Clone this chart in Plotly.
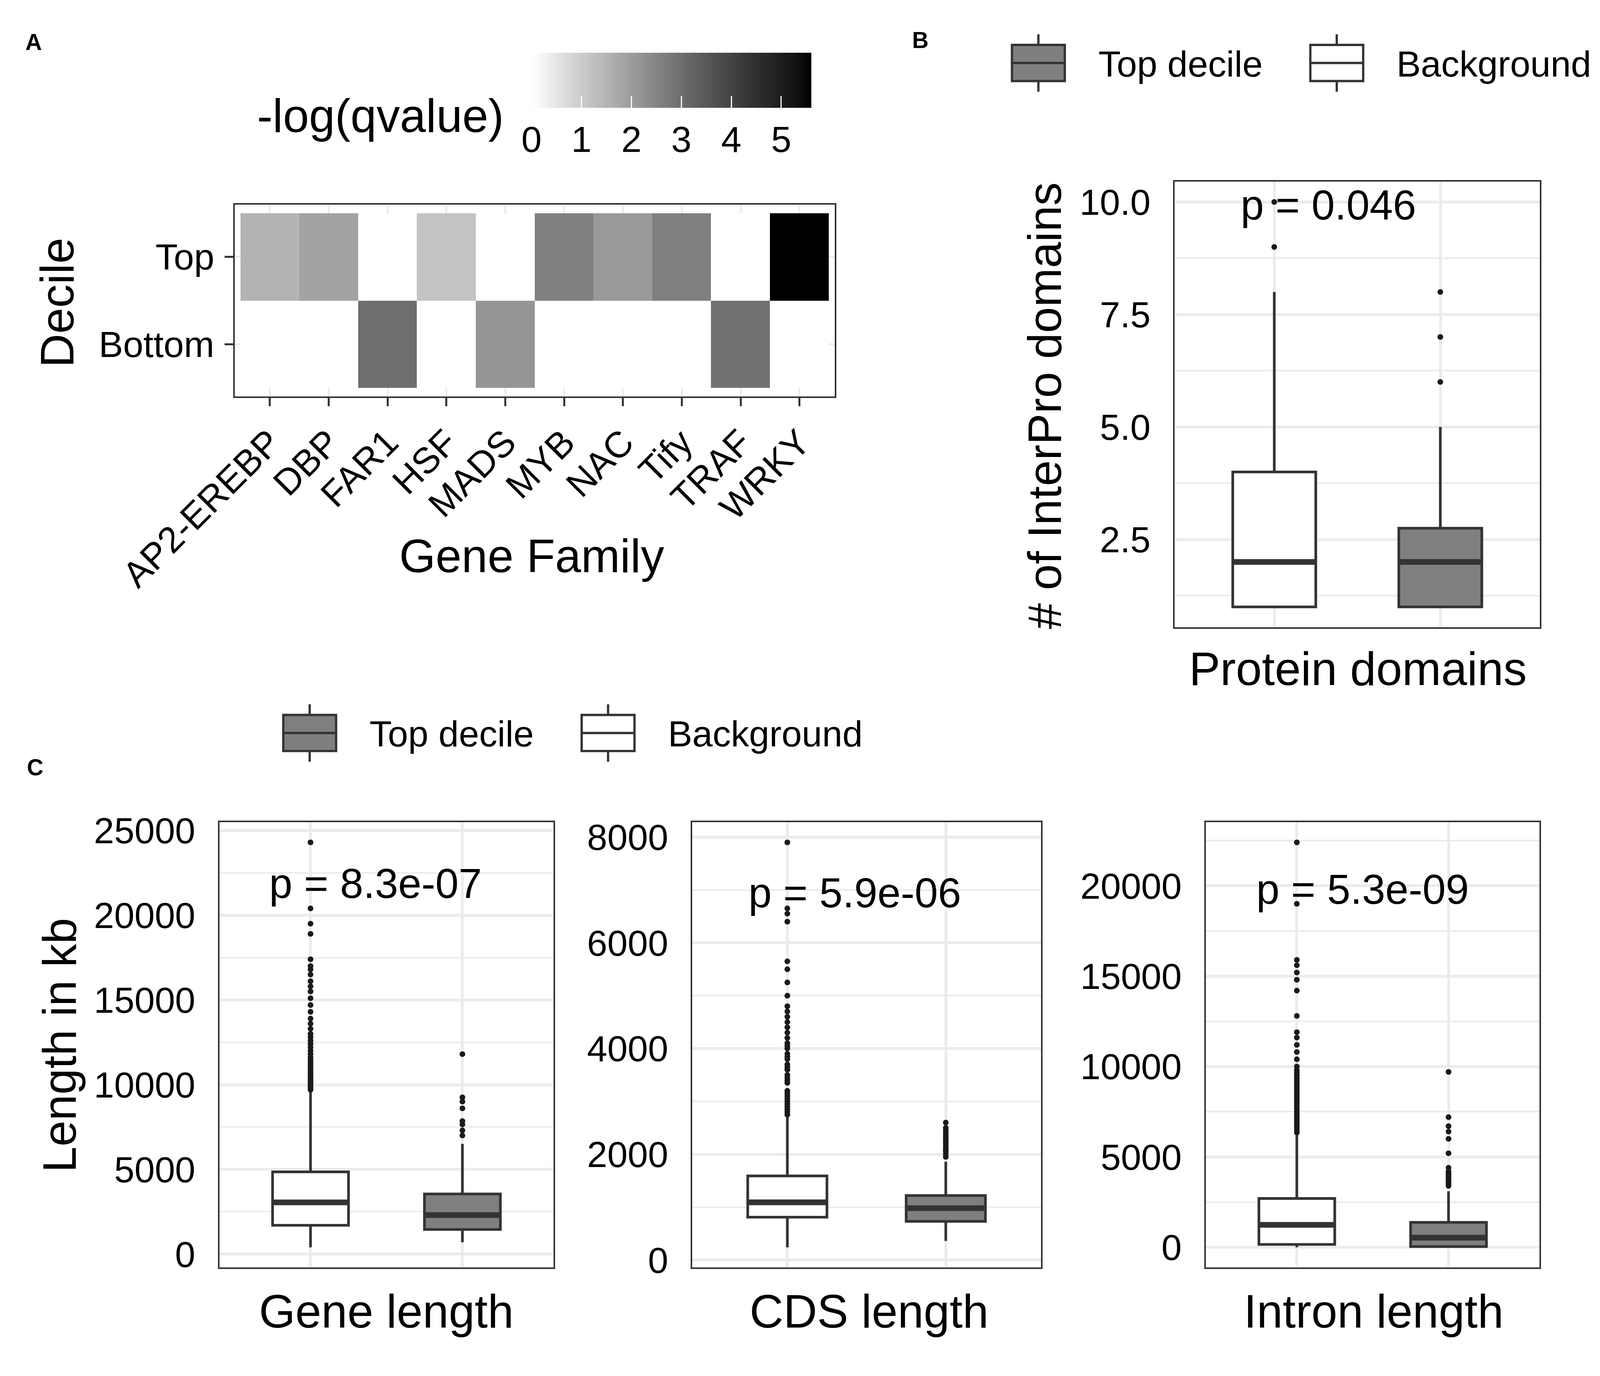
"""Gene family enrichment heatmap plus length / domain boxplots."""

import plotly.graph_objects as go

# layout is worked out in the reference's 4200x3523 pixel frame
REF_W, REF_H = 4200, 3523
# the photographed page comes out ~2.7% enlarged, so draw slightly smaller
S = 0.973
W, H = round(REF_W * S), round(REF_H * S)

# ---- panel A: -log(qvalue) per gene family and decile
families = ["AP2-EREBP", "DBP", "FAR1", "HSF", "MADS", "MYB", "NAC", "Tify", "TRAF", "WRKY"]
decile_rows = ["Bottom", "Top"]
qval_bottom = [0, 0, 3.0, 0, 2.16, 0, 0, 0, 2.9, 0]
qval_top = [1.52, 1.86, 0, 1.19, 0, 2.61, 2.07, 2.63, 0, 5.6]
qval_ticks = [0, 1, 2, 3, 4, 5]

# ---- panels B/C: lower whisker, q1, median, q3, upper whisker
groups = ["Background", "Top decile"]

domains_bg = [1, 1, 2, 4, 8]
domains_top = [1, 1, 2, 2.75, 5]
domains_bg_out = [9, 10]
domains_top_out = [6, 7, 8]

gene_bg = [400, 1700, 3050, 4850, 9600]
gene_top = [700, 1450, 2300, 3550, 6500]
gene_bg_out = [9700, 9800, 9900, 10000, 10100, 10200, 10300, 10450, 10600, 10700,
               10850, 11000, 11150, 11300, 11450, 11600, 11800, 12000, 12200, 12400,
               12600, 12800, 13000, 13300, 13600, 13900, 14300, 14700, 15100, 15500,
               15800, 16100, 16500, 16800, 17000, 17400, 18900, 19500, 20400, 24300]
gene_top_out = [7000, 7300, 7650, 7850, 8600, 9000, 9250, 11800]

cds_bg = [240, 810, 1090, 1590, 2700]
cds_top = [360, 730, 980, 1220, 1860]
cds_bg_out = [2750, 2800, 2850, 2900, 2950, 3000, 3050, 3100, 3150, 3200, 3350, 3400,
              3450, 3500, 3600, 3650, 3700, 3800, 3850, 3900, 4000, 4050, 4100, 4200,
              4300, 4400, 4500, 4600, 4700, 4800, 5000, 5250, 5500, 5650, 6400, 6550,
              6650, 7900]
cds_top_out = [1950, 2000, 2050, 2100, 2150, 2200, 2250, 2300, 2350, 2400, 2450, 2500, 2600]

intron_bg = [0, 160, 1240, 2700, 6300]
intron_top = [0, 40, 530, 1380, 3100]
intron_bg_out = [6350, 6500, 6650, 6800, 6950, 7100, 7250, 7400, 7550, 7700, 7850,
                 8000, 8150, 8300, 8450, 8600, 8750, 8900, 9050, 9200, 9350, 9500,
                 9650, 9800, 10000, 10400, 10800, 11200, 11600, 11900, 12800, 14200,
                 14800, 15200, 15600, 15900, 19000, 22400]
intron_top_out = [3400, 3500, 3600, 3700, 3800, 3900, 4000, 4100, 4200, 4400, 5200,
                  6000, 6400, 6700, 7200, 9700]

p_labels = ["p = 0.046", "p = 8.3e-07", "p = 5.9e-06", "p = 5.3e-09"]

FONT = "Liberation Sans, Arial, Helvetica, sans-serif"
GRID = "#ebebeb"
DARK = "#333333"
FILLS = {"Background": "white", "Top decile": "#7f7f7f"}
BOX_W = 0.5


def fx(px):
    return px / REF_W


def fy(px):
    return 1 - px / REF_H


def sz(v):
    return v * S


def lab_grey(t):
    # ggplot ramps white->black through CIELAB, so grey is linear in L*
    L = 100 * (1 - t)
    f = (L + 16) / 116
    Y = f ** 3 if f ** 3 > 0.008856 else L / 903.3
    c = 12.92 * Y if Y <= 0.0031308 else 1.055 * Y ** (1 / 2.4) - 0.055
    g = round(255 * min(max(c, 0), 1))
    return f"rgb({g},{g},{g})"


fig = go.Figure()

fig.add_trace(go.Heatmap(
    x=families, y=decile_rows, z=[qval_bottom, qval_top],
    zmin=0, zmax=max(qval_top + qval_bottom),
    colorscale=[[i / 20, lab_grey(i / 20)] for i in range(21)],
    xgap=0, ygap=0, hoverongaps=False,
    colorbar=dict(
        orientation="h", x=fx(1390 + 736 / 2), xanchor="center",
        len=736 / REF_W, lenmode="fraction", y=fy(131), yanchor="top",
        xpad=0, ypad=0, thickness=sz(145), outlinewidth=0, tickvals=qval_ticks,
        ticks="inside", ticklen=sz(30), tickwidth=sz(3), tickcolor="white",
        tickfont=dict(size=sz(96), color="black", family=FONT),
    ),
    xaxis="x", yaxis="y",
))

panels = [
    ("2", [domains_bg, domains_top], [domains_bg_out, domains_top_out]),
    ("3", [gene_bg, gene_top], [gene_bg_out, gene_top_out]),
    ("4", [cds_bg, cds_top], [cds_bg_out, cds_top_out]),
    ("5", [intron_bg, intron_top], [intron_bg_out, intron_top_out]),
]

ranges = {}
for ax, stats, outs in panels:
    vals = [v for s in stats for v in s] + [v for o in outs for v in o]
    lo, hi = min(vals), max(vals)
    pad = 0.05 * (hi - lo)
    ranges[ax] = [lo - pad, hi + pad]
    for pos, (grp, s, o) in enumerate(zip(groups, stats, outs), start=1):
        fig.add_trace(go.Box(
            x=[pos], lowerfence=[s[0]], q1=[s[1]], median=[s[2]], q3=[s[3]],
            upperfence=[s[4]], width=BOX_W, whiskerwidth=0, boxpoints=False,
            fillcolor=FILLS[grp], line=dict(color=DARK, width=sz(7)),
            name=grp, showlegend=False, xaxis="x" + ax, yaxis="y" + ax,
        ))
        # thicker median bar, as ggplot's fatten=2
        fig.add_trace(go.Scatter(
            x=[pos - BOX_W / 2, pos + BOX_W / 2], y=[s[2], s[2]], mode="lines",
            line=dict(color=DARK, width=sz(15)), showlegend=False, hoverinfo="skip",
            xaxis="x" + ax, yaxis="y" + ax,
        ))
        fig.add_trace(go.Scatter(
            x=[pos] * len(o), y=o, mode="markers",
            marker=dict(color="#1a1a1a", size=sz(15)), showlegend=False,
            xaxis="x" + ax, yaxis="y" + ax,
        ))


def box_axes(x0, x1, ytop, ybot, ax, dtick, fmt):
    xa = dict(
        domain=[fx(x0), fx(x1)], anchor="y" + ax, range=[0.4, 2.6],
        tickvals=[1, 2], showticklabels=False, ticks="",
        showgrid=True, gridcolor=GRID, gridwidth=sz(7), zeroline=False,
        showline=True, mirror=True, linecolor=DARK, linewidth=sz(4),
    )
    ya = dict(
        domain=[fy(ybot), fy(ytop)], anchor="x" + ax, range=ranges[ax],
        tick0=0, dtick=dtick, tickformat=fmt, ticks="",
        tickfont=dict(size=sz(96), color="black"), ticklabelstandoff=round(sz(40)),
        showgrid=True, gridcolor=GRID, gridwidth=sz(7), zeroline=False,
        minor=dict(dtick=dtick / 2, tick0=0, showgrid=True, gridcolor=GRID, gridwidth=sz(4)),
        showline=True, mirror=True, linecolor=DARK, linewidth=sz(4),
    )
    return xa, ya


xa2, ya2 = box_axes(3082, 4043, 470, 1642, "2", 2.5, ".1f")
xa3, ya3 = box_axes(569, 1448, 2155, 3327, "3", 5000, "d")
xa4, ya4 = box_axes(1813, 2730, 2155, 3327, "4", 2000, "d")
xa5, ya5 = box_axes(3164, 4042, 2155, 3327, "5", 5000, "d")

annotations = []


def text(t, x, y, size, xanchor="center", **kw):
    annotations.append(dict(
        text=t, x=fx(x), y=fy(y), xref="paper", yref="paper", showarrow=False,
        xanchor=xanchor, yanchor="middle",
        font=dict(size=sz(size), color="black", family=FONT), **kw,
    ))


# panel letters
text("<b>A</b>", 80, 102, 60)
text("<b>B</b>", 2413, 97, 60)
text("<b>C</b>", 84, 2011, 60)

# axis titles
text("-log(qvalue)", 1320, 296, 123, xanchor="right")
text("Decile", 143, 788, 123, textangle=-90)
text("Gene Family", 1390, 1455, 123)
text("# of InterPro domains", 2740, 1059, 123, textangle=-90)
text("Protein domains", 3564, 1752, 123)
text("Length in kb", 148, 2742, 123, textangle=-90)
text("Gene length", 1008, 3442, 123)
text("CDS length", 2278, 3442, 123)
text("Intron length", 3606, 3442, 123)

# p values
for lab, (x, y) in zip(p_labels, [(3486, 531), (979, 2316), (2240, 2341), (3576, 2332)]):
    text(lab, x, y, 110)

# hand-drawn boxplot legend keys (plotly's own legend icons are too small here)
shapes = []


def legend_key(x0, ytop, fill, label):
    x1, ybot = x0 + 139, ytop + 95
    xc, ym = (x0 + x1) / 2, (ytop + ybot) / 2
    line = dict(color=DARK, width=sz(6))
    shapes.append(dict(type="line", xref="paper", yref="paper", x0=fx(xc), x1=fx(xc),
                       y0=fy(ytop - 28), y1=fy(ybot + 28), line=line))
    shapes.append(dict(type="rect", xref="paper", yref="paper", x0=fx(x0), x1=fx(x1),
                       y0=fy(ybot), y1=fy(ytop), fillcolor=fill, line=line))
    shapes.append(dict(type="line", xref="paper", yref="paper", x0=fx(x0), x1=fx(x1),
                       y0=fy(ym), y1=fy(ym), line=line))
    text(label, x1 + 86, ym + 2, 96, xanchor="left")


for x0, ytop in [(2654, 110), (737, 1873)]:
    legend_key(x0, ytop, FILLS["Top decile"], "Top decile")
    legend_key(x0 + 785, ytop, FILLS["Background"], "Background")

fig.update_layout(
    width=W, height=H,
    margin=dict(l=0, r=0, t=0, b=0, autoexpand=False),
    paper_bgcolor="white", plot_bgcolor="white",
    font=dict(family=FONT, color="black"),
    showlegend=False,
    xaxis=dict(
        domain=[fx(609), fx(2188)], anchor="y", range=[-0.6, 9.6],
        categoryorder="array", categoryarray=families,
        ticks="outside", ticklen=sz(22), tickwidth=sz(5), tickcolor=DARK, tickangle=-45,
        tickfont=dict(size=sz(96), color="black"),
        showgrid=True, gridcolor=GRID, gridwidth=sz(5), zeroline=False,
        showline=True, mirror=True, linecolor=DARK, linewidth=sz(4),
    ),
    yaxis=dict(
        domain=[fy(1035), fy(530)], anchor="x", range=[-0.6, 1.6],
        categoryorder="array", categoryarray=decile_rows,
        ticks="outside", ticklen=sz(22), tickwidth=sz(5), tickcolor=DARK,
        tickfont=dict(size=sz(96), color="black"), ticklabelstandoff=round(sz(8)),
        showgrid=True, gridcolor=GRID, gridwidth=sz(5), zeroline=False,
        showline=True, mirror=True, linecolor=DARK, linewidth=sz(4),
    ),
    xaxis2=xa2, yaxis2=ya2, xaxis3=xa3, yaxis3=ya3,
    xaxis4=xa4, yaxis4=ya4, xaxis5=xa5, yaxis5=ya5,
    annotations=annotations, shapes=shapes,
)

fig.write_html("out.html")
